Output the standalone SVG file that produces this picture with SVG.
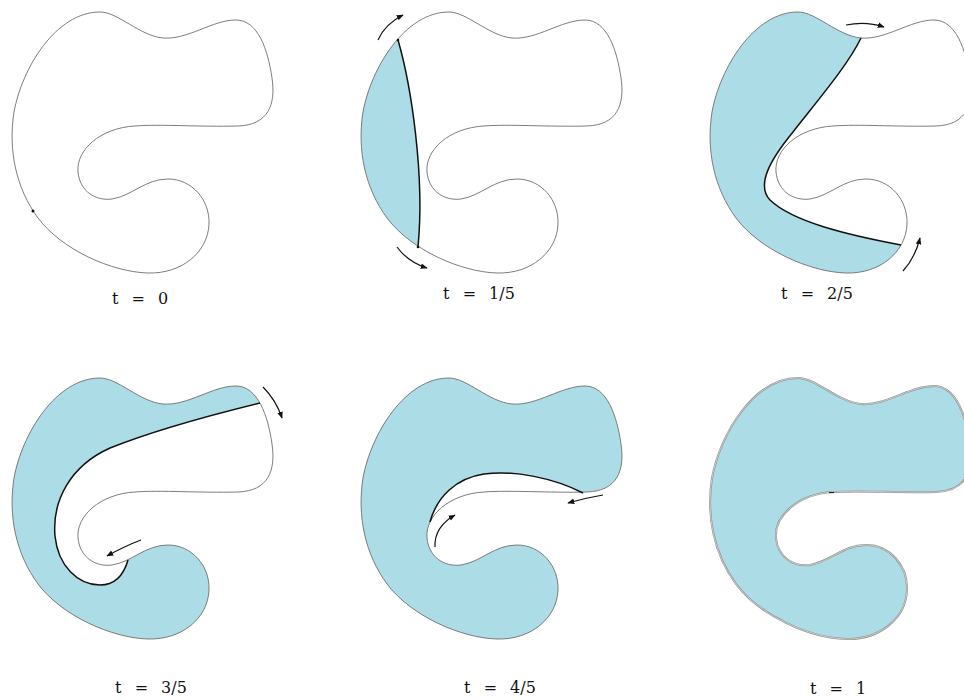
<svg xmlns="http://www.w3.org/2000/svg" xmlns:xlink="http://www.w3.org/1999/xlink" width="964" height="700" viewBox="0 0 964 700">
<style>
.bg{fill:#fff}
.outline{fill:none;stroke:#6e6e6e;stroke-width:0.9}
.fillb{fill:#acdce6;stroke:none}
.front{fill:none;stroke:#111;stroke-width:1.5}
.arr{fill:none;stroke:#111;stroke-width:1.2;marker-end:url(#ah)}
.lbl{font-family:"DejaVu Serif","Liberation Serif",serif;font-size:16px;fill:#111;text-anchor:middle;word-spacing:8px}
.dot{fill:#111}
</style>
<defs>
<path id="blob" d="M100,12 C118,12 140,36 163,38 C188,40 212,20 236,20 C258,20 268,50 272,78 C276,105 268,125 238,126 C200,127 160,124 135,126 C100,128 76,150 78,172 C80,192 96,201 112,199 C132,196 145,179 168,179 C192,179 210,200 209,224 C208,252 182,274 148,273 C112,272 62,250 38,218 C16,188 8,150 14,112 C22,68 56,12 100,12 Z"/>
<clipPath id="clipBlob" clipPathUnits="userSpaceOnUse"><use xlink:href="#blob"/></clipPath>
<marker id="ah" viewBox="0 0 10 10" refX="9" refY="5" markerWidth="7" markerHeight="7" orient="auto" markerUnits="userSpaceOnUse"><path d="M0,1 L10,5 L0,9 Z" fill="#111"/></marker>
</defs>
<rect class="bg" x="0" y="0" width="964" height="700"/>

<g id="panel-t0" transform="translate(0,0)">
<use xlink:href="#blob" class="outline"/>
<circle class="dot" cx="33" cy="211" r="1.5"/>
</g>

<g id="panel-t1-5" transform="translate(349,0)">
<path class="fillb" clip-path="url(#clipBlob)" d="M49,40 C62,85 76,175 69,247 L-20,300 L-20,-20 Z"/>
<use xlink:href="#blob" class="outline"/>
<path class="front" d="M49,40 C62,85 76,175 69,247"/>
<circle class="dot" cx="49" cy="40" r="1.3"/>
<circle class="dot" cx="69" cy="247" r="1.3"/>
</g>

<g id="panel-t2-5" transform="translate(698,0)">
<path class="fillb" clip-path="url(#clipBlob)" d="M163,38 C150,65 120,100 95,132 C72,160 58,185 72,200 C95,222 150,235 203,245 L215,300 L-20,300 L-20,-20 L163,-20 Z"/>
<use xlink:href="#blob" class="outline"/>
<path class="front" d="M163,38 C150,65 120,100 95,132 C72,160 58,185 72,200 C95,222 150,235 203,245"/>
</g>

<g id="panel-t3-5" transform="translate(0,366)">
<path class="fillb" clip-path="url(#clipBlob)" d="M260,37 L260,-20 L-20,-20 L-20,300 L300,300 L300,160 L140,160 L128,194 C124,208 116,219 100,219 C78,219 58,200 55,170 C52,135 70,100 110,82 C160,62 215,48 260,37 Z"/>
<use xlink:href="#blob" class="outline"/>
<path class="front" d="M128,194 C124,208 116,219 100,219 C78,219 58,200 55,170 C52,135 70,100 110,82 C160,62 215,48 260,37"/>
</g>

<g id="panel-t4-5" transform="translate(349,366)">
<use xlink:href="#blob" class="fillb"/>
<path fill="#fff" clip-path="url(#clipBlob)" d="M234,127 C205,112 165,104 135,108 C108,112 88,130 81,156 L100,170 L300,170 L300,127 Z"/>
<use xlink:href="#blob" class="outline"/>
<path class="front" d="M234,127 C205,112 165,104 135,108 C108,112 88,130 81,156"/>
</g>

<g id="panel-t1" transform="translate(698,366)">
<use xlink:href="#blob" class="fillb"/>
<use xlink:href="#blob" fill="none" stroke="#8f8f8f" stroke-width="2"/>
<use xlink:href="#blob" fill="none" stroke="#f4f4f4" stroke-width="0.6"/>
<path d="M131,126.6 L136,126.6" stroke="#111" stroke-width="1"/>
</g>

<g id="connectors">
<path class="arr" d="M378,40 Q385,24 403,15"/>
<path class="arr" d="M397,247 Q408,262 427,268"/>
<path class="arr" d="M846,25 Q866,21 884,27"/>
<path class="arr" d="M903,271 Q915,258 920,238"/>
<path class="arr" d="M263,387 Q276,400 282,418"/>
<path class="arr" d="M141,540 Q125,546 107,556"/>
<path class="arr" d="M603,495 Q585,498 568,503"/>
<path class="arr" d="M435,547 Q434,527 455,515"/>
</g>

<g id="labels">
<text class="lbl" x="140" y="304">t = 0</text>
<text class="lbl" x="479" y="299">t = 1/5</text>
<text class="lbl" x="817" y="299">t = 2/5</text>
<text class="lbl" x="151" y="693">t = 3/5</text>
<text class="lbl" x="500" y="693">t = 4/5</text>
<text class="lbl" x="838" y="694">t = 1</text>
</g>
</svg>
